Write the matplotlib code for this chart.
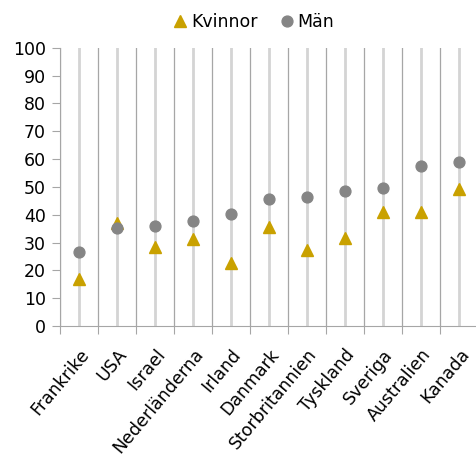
import numpy as np
import matplotlib.pyplot as plt

countries = ["Frankrike", "USA", "Israel", "Nederländerna", "Irland", "Danmark",
             "Storbritannien", "Tyskland", "Sveriga", "Australien", "Kanada"]
kvinnor = [16.8, 37.0, 28.4, 31.2, 22.8, 35.6, 27.2, 31.5, 41.1, 41.1, 49.2]
man = [26.6, 35.2, 36.0, 37.6, 40.3, 45.5, 46.2, 48.6, 49.6, 57.6, 58.8]

plt.rcParams["font.family"] = ["DejaVu Sans"]

fig = plt.figure(figsize=(4.77, 4.61), dpi=100)
ax = fig.add_axes([60 / 477, 1 - 326 / 461, 418 / 477, (326 - 47.7) / 461])

x = np.arange(len(countries))

# ljusa linjer genom kategorierna, mörkare mellan dem
for xi in x:
    ax.axvline(xi, color="#d4d4d4", linewidth=2, zorder=1)
for xb in np.arange(-0.5, len(countries) + 0.5, 1):
    ax.axvline(xb, color="#a6a6a6", linewidth=0.9, zorder=1)

ax.plot(x, kvinnor, linestyle="none", marker="^", markersize=8,
        color="#c9a100", label="Kvinnor", zorder=3)
ax.plot(x, man, linestyle="none", marker="o", markersize=7.8,
        color="#858585", label="Män", zorder=3)

ax.set_xlim(-0.5, len(countries) - 0.5)
ax.set_ylim(0, 100)
ax.set_yticks(range(0, 101, 10))

ax.set_xticks(np.arange(-0.5, len(countries) + 0.5, 1))
ax.set_xticklabels([])
ax.set_xticks(x, minor=True)
ax.set_xticklabels(countries, minor=True, rotation=50, ha="right",
                   rotation_mode="anchor", fontsize=12.5)
ax.tick_params(axis="x", which="minor", length=0, pad=14)
ax.tick_params(axis="x", which="major", length=6, color="#a6a6a6", direction="out")
ax.tick_params(axis="y", length=6, color="#a6a6a6", labelsize=12.5, pad=4)

for s in ["top", "right"]:
    ax.spines[s].set_visible(False)
ax.spines["left"].set_color("#a6a6a6")
ax.spines["bottom"].set_color("#a6a6a6")

fig.legend(loc="upper center", bbox_to_anchor=(0.53, 1.005), ncol=2, frameon=False,
           fontsize=12.5, handletextpad=0.1, columnspacing=1.2, handlelength=1.0,
           markerscale=1.0)

fig.savefig("out.png", dpi=100)
